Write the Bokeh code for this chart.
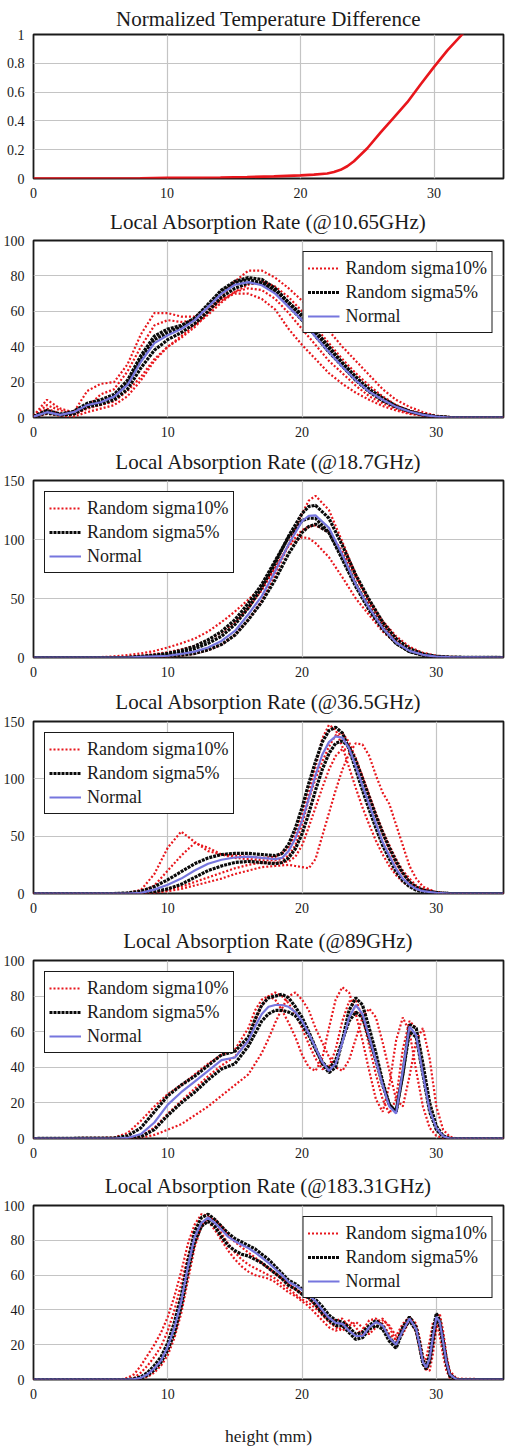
from bokeh.plotting import figure
from bokeh.models import Range1d, FixedTicker, NumeralTickFormatter, Legend, LegendItem
from bokeh.layouts import column
from bokeh.embed import file_html
from bokeh.resources import INLINE

# ---------------- data ----------------
# Panel 1: Normalized Temperature Difference
X1 = [0, 8, 10, 12, 14, 16, 18, 20, 21, 22, 22.5, 23, 23.5, 24, 24.5, 25, 26, 27, 28, 29, 30, 31, 32, 33]
Y1 = [0, 0.002, 0.004, 0.005, 0.007, 0.01, 0.015, 0.022, 0.027, 0.035, 0.045, 0.06, 0.085, 0.12, 0.165,
      0.21, 0.32, 0.425, 0.53, 0.655, 0.775, 0.89, 0.99, 1.1]

# Panel 2: 10.65 GHz
X2 = [0, 1, 2, 3, 4, 5, 6, 7, 8, 9, 10, 11, 12, 13, 14, 15, 16, 17, 18, 19, 20, 21, 22, 23, 24, 25, 26, 27, 28, 29, 30, 31, 35]
N2 = [0.5, 3, 1.5, 3, 7, 8.6, 11.8, 18.4, 31.5, 42, 46.5, 50, 55, 62.5, 70, 75, 76.5, 74.7, 70, 62.5, 55, 45.6, 37, 28.7, 21, 14.6, 10, 6, 3.4, 1.5, 0.5, 0, 0]
R2_A = [1, 10, 5, 3, 15, 19, 20, 30, 47, 59, 59, 57, 57, 62, 67, 70, 70, 67, 61, 50, 41, 33, 25, 19, 14, 10, 6.5, 4, 2, 1, 0.3, 0, 0]
R2_B = [0, 5, 2, 1.5, 5, 7, 9, 15, 23, 33, 40, 45, 51, 59, 68, 77, 83, 83, 79, 73, 66, 58, 49, 40, 32, 24, 16, 10, 6, 3, 1, 0.3, 0]
R2_C = [1, 7, 4, 2, 6, 13, 16, 26, 40, 52, 55, 54, 55, 60, 66, 71, 73, 72, 67, 59, 50, 41, 32, 25, 18, 12, 8, 5, 2.5, 1, 0.3, 0, 0]
R2_D = [0, 2, 1, 0.5, 3, 5, 7, 12, 21, 32, 40, 46, 52, 58, 65, 71, 75, 77, 74, 68, 60, 51, 42, 33, 25, 18, 12, 7, 4, 2, 0.7, 0, 0]
B2_A = [0.5, 4, 2, 3.5, 8, 10, 13, 21, 35, 46, 50, 52, 56, 64, 72, 77, 79, 78, 73, 65, 57, 48, 39, 30, 22, 15, 10, 6, 3.5, 1.5, 0.5, 0, 0]
B2_B = [0.5, 2.5, 1.5, 2, 6, 7.5, 10, 16, 28, 38, 44, 48, 53, 60, 68, 73, 76, 76, 72, 65, 58, 49, 40, 31, 23, 16, 11, 6.5, 3.5, 1.5, 0.5, 0, 0]
B2_C = [0.5, 3.5, 1.5, 3, 7, 9, 12, 19, 33, 44, 48, 51, 56, 63, 71, 76, 78, 76, 71, 63, 55, 46, 37, 29, 21, 14.5, 9.5, 6, 3.5, 1.5, 0.5, 0, 0]

# Panel 3: 18.7 GHz
X3 = [0, 5, 6, 7, 8, 9, 10, 11, 12, 13, 14, 15, 16, 17, 18, 19, 20, 20.5, 21, 22, 23, 24, 25, 26, 27, 28, 29, 30, 31, 35]
N3 = [0, 0, 0, 0, 0.5, 1, 1.5, 3, 5, 8.5, 14, 22.5, 36.6, 52, 73, 96, 115.5, 120, 120.5, 110, 87, 62, 42, 25, 12.7, 5.6, 2.3, 0.8, 0.3, 0]
R3_A = [0, 0.3, 1, 2, 3.5, 5.5, 8.5, 12, 16, 22, 30, 39, 49, 60, 76, 95, 102, 101, 97, 85, 68, 50, 36, 22, 12, 5, 2, 0.5, 0, 0]
R3_B = [0, 0, 0, 0, 0, 0, 0.5, 1.5, 3, 6, 11, 19, 32, 48, 70, 96, 122, 133, 137, 125, 98, 70, 46, 28, 14, 6, 2, 0.5, 0, 0]
R3_C = [0, 0, 0, 0.5, 1.5, 3, 4.5, 7, 10, 15, 21, 30, 42, 57, 76, 95, 108, 111, 112, 106, 90, 68, 48, 31, 18, 9, 4, 1.5, 0.5, 0]
B3_A = [0, 0, 0, 0, 0.5, 1.5, 2.5, 4.5, 7.5, 12, 18, 28, 42, 59, 80, 103, 122, 128, 129, 118, 95, 70, 49, 30, 16, 7.5, 3, 1, 0.3, 0]
B3_B = [0, 0, 0, 0, 0, 0.5, 1, 2, 3.5, 6.5, 11, 19, 32, 47, 66, 88, 106, 111, 113, 106, 86, 62, 42, 25, 12, 5, 2, 0.5, 0, 0]
B3_C = [0, 0, 0, 0, 1, 2, 3.5, 6, 9.5, 15, 22, 32, 46, 62, 82, 102, 116, 118, 118, 106, 83, 60, 40, 24, 12, 5, 2, 0.6, 0, 0]

# Panel 4: 36.5 GHz
X4 = [0, 6, 7, 8, 9, 10, 11, 12, 13, 14, 15, 16, 17, 18, 18.5, 19, 19.5, 20, 20.5, 21, 21.5, 22, 22.5, 23, 23.5,
      24, 24.5, 25, 25.5, 26, 26.5, 27, 27.5, 28, 28.5, 29, 30, 31, 35]
N4 = [0, 0, 0, 0.5, 3.4, 7.6, 13, 20, 26, 29.4, 31.4, 32.2, 31, 30, 31, 37, 48, 63.6, 83, 103, 121, 132, 137, 136, 126.6,
      111, 94, 77.6, 61, 45, 33, 21.6, 13, 7.6, 4, 2, 0.5, 0, 0]
R4_A = [0, 0, 0.5, 3, 17, 40, 54, 45, 37, 34, 33, 32, 31, 32, 35, 40, 52, 68, 88, 110, 135, 147, 143, 128, 110,
        92, 75, 60, 46, 34, 24, 16, 10, 6, 3.5, 2, 0.5, 0, 0]
R4_B = [0, 0, 0, 0, 0.5, 2, 4, 7, 10, 13, 17, 20, 23, 24, 24.5, 25, 24, 23, 22, 30, 50, 70, 90, 108, 122,
        131, 130, 120, 103, 88, 78, 60, 42, 24, 13, 6, 1, 0, 0]
R4_C = [0, 0, 0, 1, 7, 20, 33, 44, 40, 34, 31, 30, 29, 29, 30, 33, 42, 60, 82, 100, 115, 128, 138, 140, 132,
        118, 102, 85, 68, 52, 38, 26, 17, 10, 5, 3, 0.5, 0, 0]
R4_D = [0, 0, 0, 0, 1, 3, 6, 10, 14, 18, 22, 25, 27, 27, 27, 28, 32, 42, 58, 75, 92, 108, 120, 126, 125,
        116, 102, 86, 70, 55, 42, 30, 20, 13, 7, 4, 1, 0, 0]
B4_A = [0, 0, 0.5, 2, 6, 12, 19, 26, 31, 34, 35, 35, 34, 33, 35, 43, 57, 75, 96, 115, 132, 142, 145, 140, 126,
        108, 90, 73, 57, 42, 30, 19, 11, 6, 3, 1.5, 0.3, 0, 0]
B4_B = [0, 0, 0, 0, 1.5, 4, 8, 14, 20, 24, 27, 28, 27, 26, 27, 31, 39, 52, 70, 90, 108, 122, 131, 133, 128,
        116, 100, 84, 68, 53, 40, 28, 18, 10, 5.5, 3, 0.8, 0, 0]

# Panel 5: 89 GHz
X5 = [0, 6, 7, 8, 9, 10, 11, 12, 13, 14, 15, 16, 16.5, 17, 17.5, 18, 18.5, 19, 19.5, 20, 20.5, 21, 21.5, 22, 22.5,
      23, 23.5, 24, 24.5, 25, 25.5, 26, 26.5, 27, 27.5, 28, 28.5, 29, 29.5, 30, 30.5, 31, 31.5, 35]
N5 = [0, 0, 0.3, 2.5, 9, 19, 26, 32, 38, 44, 45.5, 55, 63, 70, 74, 75, 75, 74, 71, 66, 59, 51, 43, 38, 42,
      54, 68, 75, 70, 57, 44, 30, 18, 14, 38, 63, 58, 36, 16, 6, 1.3, 0, 0, 0]
R5_A = [0, 0.5, 3, 10, 18, 25, 30, 36, 42, 47, 50, 62, 72, 78, 80, 78, 72, 65, 57, 47, 40, 38, 45, 62, 78,
        85, 82, 70, 55, 38, 22, 15, 30, 55, 68, 60, 38, 18, 6, 1.5, 0.3, 0, 0, 0]
R5_B = [0, 0, 0, 0.5, 2, 5, 8, 13, 18, 24, 30, 36, 42, 48, 56, 65, 73, 80, 82, 78, 72, 62, 54, 46, 40,
        38, 44, 56, 68, 73, 68, 54, 38, 22, 18, 35, 55, 62, 45, 18, 5, 1, 0, 0]
R5_C = [0, 0, 0, 1.5, 6, 14, 21, 28, 35, 41, 46, 55, 66, 75, 80, 82, 80, 76, 70, 62, 53, 45, 39, 40, 50,
        66, 77, 78, 68, 52, 36, 22, 14, 22, 50, 66, 62, 42, 20, 6, 1, 0, 0, 0]
B5_A = [0, 0.3, 1.5, 6, 15, 24, 30, 35, 41, 47, 49, 57, 67, 75, 79, 80, 81, 79, 74, 68, 60, 51, 42, 37, 40,
        55, 72, 79, 75, 62, 48, 32, 19, 15, 36, 64, 62, 42, 20, 7, 1.5, 0, 0, 0]
B5_B = [0, 0, 0, 1, 5, 13, 20, 26, 33, 39, 42, 52, 59, 66, 70, 72, 72, 71, 69, 64, 58, 50, 43, 39, 44,
        55, 66, 71, 68, 56, 44, 30, 19, 15, 36, 60, 57, 36, 15, 5, 1, 0, 0, 0]

# Panel 6: 183.31 GHz
X6 = [0, 6.5, 7, 7.5, 8, 8.5, 9, 9.5, 10, 10.5, 11, 11.5, 12, 12.5, 13, 13.5, 14, 14.5, 15, 15.5, 16, 16.5, 17,
      17.5, 18, 18.5, 19, 19.5, 20, 20.5, 21, 21.5, 22, 22.5, 23, 23.5, 24, 24.5, 25, 25.5, 26, 26.5, 27, 27.5,
      28, 28.5, 28.75, 29, 29.25, 29.5, 29.75, 30, 30.25, 30.5, 30.75, 31, 31.5, 35]
N6 = [0, 0, 0, 0.2, 1, 3, 6.5, 11, 19, 30, 45, 65, 82, 90, 93, 90, 86, 82, 79.5, 77.5, 75.5, 73, 70,
      67, 63.5, 60, 56, 54, 51.5, 48.5, 45, 40, 35.5, 32.5, 32, 28, 25, 25, 30, 33, 31, 24, 20, 28,
      35, 29, 20, 10, 7, 12, 25, 36, 33, 22, 10, 3, 0, 0]
R6_A = [0, 0, 1, 3, 8, 14, 20, 27, 36, 48, 62, 78, 89, 95, 94, 89, 84, 78, 73, 69, 66, 64, 62,
        60, 58, 55, 52, 49, 46, 44, 41, 37, 33, 30, 28, 31, 33, 30, 26, 30, 34, 31, 25, 32,
        36, 27, 18, 10, 12, 22, 33, 34, 25, 14, 5, 1, 0, 0]
R6_B = [0, 0, 0, 0, 0.5, 1.5, 4, 8, 14, 24, 38, 57, 76, 88, 93, 92, 88, 83, 79, 76, 73, 70, 67,
        64, 61, 58, 55, 52, 49, 46, 43, 39, 35, 34, 35, 30, 26, 28, 34, 35, 32, 26, 23, 30,
        36, 32, 24, 14, 6, 5, 15, 30, 38, 28, 14, 5, 0.5, 0]
R6_C = [0, 0, 0, 1, 4, 8, 13, 19, 28, 40, 55, 71, 84, 90, 91, 86, 80, 74, 69, 65, 62, 60, 59,
        58, 56, 53, 50, 48, 45, 42, 38, 34, 30, 28, 30, 34, 30, 25, 28, 33, 35, 30, 22, 26,
        34, 28, 18, 9, 5, 10, 22, 30, 32, 26, 12, 4, 0, 0]
B6_A = [0, 0, 0, 0.5, 1.5, 4, 8, 13, 21, 33, 48, 68, 85, 93, 95, 92, 88, 84, 81, 79, 77, 75, 72,
        69, 65, 61, 57, 55, 52, 50, 46, 42, 37, 34, 33, 30, 26, 27, 31, 34, 31, 24, 20, 30,
        36, 30, 21, 11, 8, 14, 28, 38, 34, 23, 11, 3, 0, 0]
B6_B = [0, 0, 0, 0, 0.8, 2.5, 5.5, 10, 17, 27, 42, 62, 79, 88, 91, 88, 82, 77, 74, 72, 71, 69, 67,
        64, 61, 58, 54, 52, 49, 47, 43, 38, 34, 31, 31, 27, 23, 24, 29, 31, 29, 22, 18, 28,
        34, 28, 19, 9, 6, 10, 22, 35, 31, 20, 9, 2, 0, 0]

TITLES = ["Normalized Temperature Difference",
          "Local Absorption Rate (@10.65GHz)",
          "Local Absorption Rate (@18.7GHz)",
          "Local Absorption Rate (@36.5GHz)",
          "Local Absorption Rate (@89GHz)",
          "Local Absorption Rate (@183.31GHz)"]
X_TICKS = [0, 10, 20, 30]
Y_TICKS_1 = [0, 0.2, 0.4, 0.6, 0.8, 1]
Y_TICKS_100 = [0, 20, 40, 60, 80, 100]
Y_TICKS_150 = [0, 50, 100, 150]
LEGEND_LABELS = ["Random sigma10%", "Random sigma5%", "Normal"]
X_LABEL = "height (mm)"

# ---------------- styling ----------------
SERIF = "Liberation Serif"
RED = "#e8161c"
BLACK = "#0a0a0a"
BLUE = "#7676de"
INK = "#1a1a1a"


def make_fig(title, height, top, bottom, left, right, xmax, ymax, yticks, standoff):
    p = figure(width=511, height=height, x_range=Range1d(0, xmax), y_range=Range1d(0, ymax),
               output_backend="svg", toolbar_location=None,
               min_border_top=top, min_border_bottom=bottom,
               min_border_left=left, min_border_right=right, title=title)
    p.title.text_font = SERIF
    p.title.text_font_size = "21px"
    p.title.text_font_style = "normal"
    p.title.text_color = INK
    p.title.align = "center"
    p.title.standoff = standoff
    p.xaxis.ticker = FixedTicker(ticks=X_TICKS)
    p.yaxis.ticker = FixedTicker(ticks=yticks)
    p.xgrid.ticker = FixedTicker(ticks=X_TICKS)
    p.ygrid.ticker = FixedTicker(ticks=yticks)
    p.axis.axis_line_color = None
    p.axis.major_tick_line_color = None
    p.axis.minor_tick_line_color = None
    p.axis.major_label_text_font = SERIF
    p.axis.major_label_text_font_size = "14px"
    p.axis.major_label_text_color = INK
    p.xaxis.major_label_standoff = 3
    p.yaxis.major_label_standoff = 3
    p.grid.grid_line_color = "#c4c4c4"
    p.grid.grid_line_width = 1.2
    p.outline_line_color = INK
    p.outline_line_width = 1.8
    p.outline_line_alpha = 1
    p.background_fill_color = "white"
    p.border_fill_color = "white"
    return p


def check(x, ys):
    for y in ys:
        if len(y) != len(x):
            raise ValueError("length mismatch %d vs %d" % (len(x), len(y)))


def draw_panel(p, x, reds, blacks, normal, loc):
    check(x, reds + blacks + [normal])
    rr = [p.line(x, y, color=RED, line_width=2.2, line_dash="2 2") for y in reds]
    rb = [p.line(x, y, color=BLACK, line_width=3.2, line_dash="3 1") for y in blacks]
    rn = p.line(x, normal, color=BLUE, line_width=2.2)
    leg = Legend(items=[LegendItem(label=LEGEND_LABELS[0], renderers=[rr[0]]),
                        LegendItem(label=LEGEND_LABELS[1], renderers=[rb[0]]),
                        LegendItem(label=LEGEND_LABELS[2], renderers=[rn])],
                 location=loc, label_text_font=SERIF, label_text_font_size="18px",
                 label_text_color=INK, border_line_color=INK, border_line_width=1.6,
                 border_line_alpha=1, background_fill_color="white", background_fill_alpha=1,
                 padding=4, spacing=0, margin=11, glyph_width=32, glyph_height=24,
                 label_standoff=6, label_height=24)
    p.add_layout(leg)


# Panel 1
p1 = make_fig(TITLES[0], 200, 33, 19, 21, 1, 35.2, 1, Y_TICKS_1, 8)
p1.yaxis.formatter = NumeralTickFormatter(format="0.[0]")
check(X1, [Y1])
p1.line(X1, Y1, color=RED, line_width=2.6)

p2 = make_fig(TITLES[1], 240, 39, 23, 25, 8, 35, 100, Y_TICKS_100, 14)
draw_panel(p2, X2, [R2_A, R2_B, R2_C, R2_D], [B2_A, B2_B, B2_C], N2, "top_right")

p3 = make_fig(TITLES[2], 240, 39, 23, 25, 3, 35, 150, Y_TICKS_150, 14)
draw_panel(p3, X3, [R3_A, R3_B, R3_C], [B3_A, B3_B, B3_C], N3, "top_left")

p4 = make_fig(TITLES[3], 235, 40, 17, 25, 3, 35, 150, Y_TICKS_150, 15)
draw_panel(p4, X4, [R4_A, R4_B, R4_C, R4_D], [B4_A, B4_B], N4, "top_left")

p5 = make_fig(TITLES[4], 247, 45, 24, 25, 3, 35, 100, Y_TICKS_100, 16)
draw_panel(p5, X5, [R5_A, R5_B, R5_C], [B5_A, B5_B], N5, "top_left")

p6 = make_fig(TITLES[5], 286, 43, 65, 25, 3, 35, 100, Y_TICKS_100, 16)
draw_panel(p6, X6, [R6_A, R6_B, R6_C], [B6_A, B6_B], N6, "top_right")
p6.xaxis.axis_label = X_LABEL
p6.xaxis.axis_label_text_font = SERIF
p6.xaxis.axis_label_text_font_size = "17.5px"
p6.xaxis.axis_label_text_font_style = "normal"
p6.xaxis.axis_label_text_color = INK
p6.xaxis.axis_label_standoff = 24

layout = column(p1, p2, p3, p4, p5, p6, spacing=0)
open("out.html", "w").write(file_html(layout, INLINE))
